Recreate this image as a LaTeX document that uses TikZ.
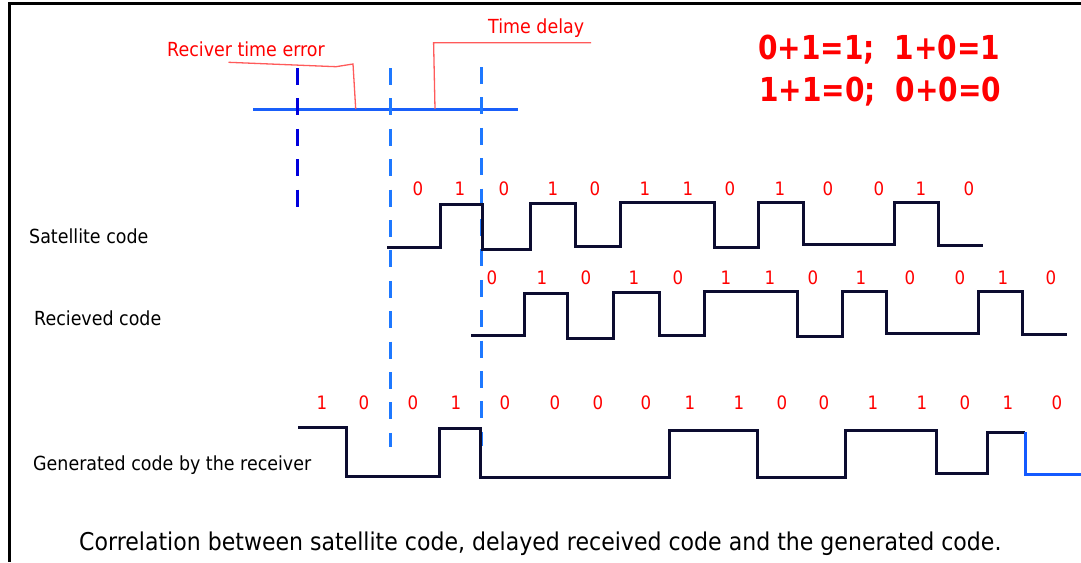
\documentclass[tikz,border=0pt]{standalone}
\usepackage{fontspec}
\setmainfont{DejaVu Sans}[FakeStretch=0.9]
\newfontfamily\eqfont{DejaVu Sans}[FakeStretch=0.85]
\definecolor{wave}{RGB}{12,12,48}
\definecolor{leader}{RGB}{255,90,90}
\definecolor{tline}{RGB}{25,95,250}
\definecolor{dashblue}{RGB}{30,120,255}
\definecolor{darkdash}{RGB}{0,0,220}
\definecolor{tailblue}{RGB}{20,90,255}
\tikzset{
  wavestyle/.style={draw=wave, line width=3pt},
  vline/.style={line width=3pt, dash pattern=on 17pt off 13.4pt},
  bit/.style={text=red, anchor=base, inner sep=0pt, font=\fontsize{18.5}{20}\selectfont},
  lbl/.style={anchor=base west, inner sep=0pt, font=\fontsize{19.4}{22}\selectfont},
  leaderline/.style={draw=leader, line width=1.3pt},
  eqn/.style={anchor=base west, inner sep=0pt, text=red, font=\eqfont\bfseries\fontsize{33}{36}\selectfont}
}
\begin{document}
\begin{tikzpicture}[x=1pt,y=-1pt]
\useasboundingbox (0,0) rectangle (1081,562);
% frame
\draw[line width=3pt] (1081,3) -- (9.5,3) -- (9.5,562);

% labels
\node[lbl] (sat) at (29,243.5) {Satellite code};
\node[lbl] (rec) at (34,325) {Recieved code};
\node[lbl] (gen) at (33,470) {Generated code by the receiver};
\node[lbl, font=\fontsize{24.5}{27}\selectfont] (cap) at (79,550) {Correlation between satellite code, delayed received code and the generated code.};
\node[lbl, text=red] (rte) at (167,56.7) {Reciver time error};
\node[lbl, text=red] (td) at (488,33.3) {Time delay};
\node[eqn] (eq1) at (758,59.3) {0+1=1;~~1+0=1};
\node[eqn] (eq2) at (759,101) {1+1=0;~~0+0=0};

% timeline
\coordinate (tl0) at (253,109);
\coordinate (tl1) at (518,109);
\draw[draw=tline, line width=3pt] (tl0) -- (tl1);

% leader lines
\coordinate (la) at (228.5,62.3);
\coordinate (lb) at (336,66.7);
\coordinate (lc) at (353,64);
\coordinate (ld) at (355.7,109);
\draw[leaderline] (la) -- (lb) -- (lc) -- (ld);
\coordinate (ma) at (591,42.7);
\coordinate (mb) at (433.6,42.7);
\coordinate (mc) at (435,109);
\draw[leaderline] (ma) -- (mb) -- (mc);

% dashed vertical lines
\coordinate (d1a) at (297,68); \coordinate (d1b) at (297,207);
\coordinate (d2a) at (390,68); \coordinate (d2b) at (390,447);
\coordinate (d3a) at (481,67); \coordinate (d3b) at (481,446);
\draw[vline, draw=darkdash] (d1a) -- (d1b);
\draw[vline, draw=dashblue] (d2a) -- (d2b);
\draw[vline, draw=dashblue] (d3a) -- (d3b);

% satellite code
\draw[wavestyle] (387,247) -| (440,204) -| (482,249) -| (530,203) -| (575,246) -| (620,202) -| (714,247) -| (758,202) -| (803,244) -| (894,202) -| (938,245) -- (983,245);
\foreach \x/\b [count=\i] in {418/0,460/1,504/0,553/1,595/0,645/1,688/1,730/0,780/1,828/0,879/0,921/1,969/0}
  \node[bit] (s\i) at (\x,195) {\b};

% received code
\draw[wavestyle] (471,335) -| (524,293) -| (567,338) -| (613,292) -| (659,335) -| (704,291) -| (797,336) -| (842,291) -| (886,333) -| (978,291) -| (1022,334) -- (1067,334);
\foreach \x/\b [count=\i] in {492/0,542/1,586/0,634/1,678/0,726/1,770/1,813/0,861/1,910/0,960/0,1003/1,1051/0}
  \node[bit] (r\i) at (\x,284) {\b};

% generated code
\draw[wavestyle] (298,427) -| (346,476) -| (439,428) -| (480,477) -| (669,430) -| (757,477) -| (845,430) -| (936,473) -| (987,432) -- (1025.4,432);
\draw[draw=tailblue, line width=3pt] (1025.4,432) |- (1081,474);
\foreach \x/\b [count=\i] in {322/1,364/0,413/0,456/1,505/0,555/0,598/0,646/0,690/1,739/1,782/0,824/0,873/1,922/1,965/0,1008/1,1057/0}
  \node[bit] (g\i) at (\x,409.3) {\b};
\end{tikzpicture}
\end{document}
